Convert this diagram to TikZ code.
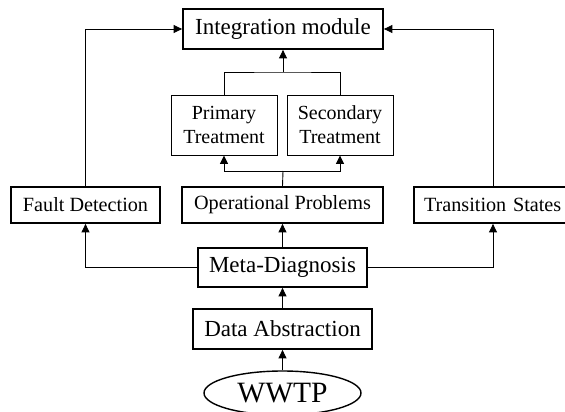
\documentclass[tikz,border=0pt]{standalone}
\usepackage{fontspec}
\setmainfont{Liberation Serif}
\usetikzlibrary{arrows.meta,shapes.geometric}
\begin{document}
\begin{tikzpicture}[x=1pt,y=-1pt,
  thickbox/.style={draw,line width=1.8pt,inner sep=0pt,minimum width=#1},
  thinbox/.style={draw,line width=0.9pt,inner sep=0pt,minimum width=106pt,minimum height=60pt,align=center,font=\fontsize{20}{24}\selectfont},
  big/.style={font=\fontsize{23}{27}\selectfont},
  mid/.style={font=\fontsize{20.2}{24}\selectfont},
  conn/.style={line width=0.9pt},
  arr/.style={conn,-{Triangle[length=8.5pt,width=8pt]}}]
\useasboundingbox (0,0) rectangle (565,412);
\clip (0,0) rectangle (565,412);
\node[thickbox=200pt,minimum height=40pt,big] (integ) at (283,29) {Integration module};
\node[thinbox] (prim) at (224,125) {Primary\\Treatment};
\node[thinbox] (sec) at (340,125) {Secondary\\Treatment};
\node[thickbox=149pt,minimum height=36pt,mid] (fault) at (85.5,205) {Fault Detection};
\node[thickbox=201pt,minimum height=36pt,mid] (op) at (282.5,205) {Operational Problems};
\node[thickbox=158pt,minimum height=36pt,mid,text width=154pt,align=left] (trans) at (493,205) {\hspace*{8pt}Transition States};
\node[thickbox=169pt,minimum height=39pt,big] (meta) at (282.5,267.5) {Meta-Diagnosis};
\node[thickbox=179pt,minimum height=40pt,big] (data) at (282.5,329) {Data Abstraction};
\node[draw,ellipse,line width=1.4pt,inner sep=0pt,minimum width=157pt,minimum height=44pt,font=\fontsize{29.5}{32}\selectfont] (wwtp) at (282.5,393) {WWTP};
\coordinate (j1) at (283,72);
\coordinate (j2) at (283,171);
\draw[arr] (fault.north) |- (integ.west);
\draw[arr] (trans.north) |- (integ.east);
\draw[conn] (prim.north) |- (j1) -| (sec.north);
\draw[arr] (j1) -- (integ.south);
\draw[conn] (op.north) -- (j2);
\draw[arr] (j2) -| (prim.south);
\draw[arr] (j2) -| (sec.south);
\draw[arr] (meta.west) -| (fault.south);
\draw[arr] (meta.east) -| (trans.south);
\draw[arr] (meta.north) -- (op.south);
\draw[arr] (data.north) -- (meta.south);
\draw[arr] (wwtp.north) -- (data.south);
\end{tikzpicture}
\end{document}
